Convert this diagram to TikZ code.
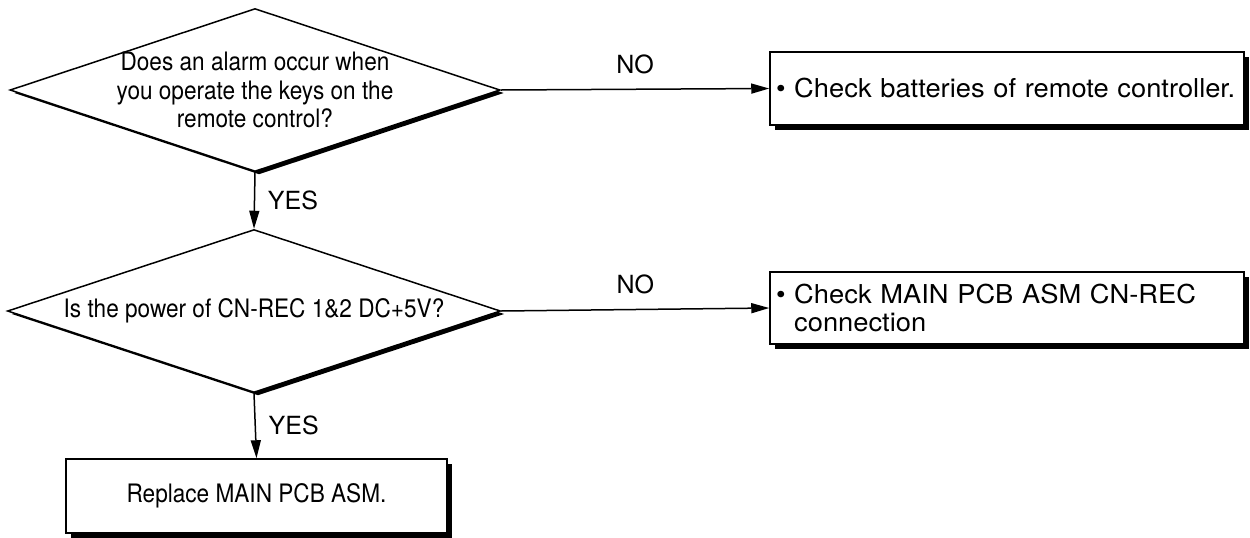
\documentclass[tikz,border=0pt]{standalone}
\usepackage{fontspec}
\setmainfont{TeX Gyre Heros}
\newfontfamily\narrowsf[FakeStretch=0.89]{TeX Gyre Heros}
\newfontfamily\widesf[FakeStretch=1.05]{TeX Gyre Heros}
\usetikzlibrary{shapes.geometric,shadows,arrows.meta,positioning}

\begin{document}
\begin{tikzpicture}[x=0.5pt, y=-0.5pt, ->, >={Triangle[length=9pt,width=5pt]}, line width=0.75pt,
  font=\fontsize{12.5}{14}\selectfont,
  decision/.style={diamond, draw, fill=white, inner sep=0pt, minimum width=245pt, minimum height=81.5pt,
    drop shadow={shadow xshift=2pt, shadow yshift=-1.5pt, opacity=1, fill=black}},
  question/.style={align=center, font=\narrowsf\fontsize{12.7}{14.2}\selectfont},
  action/.style={rectangle, draw, fill=white, minimum width=237pt, text width=231pt, inner xsep=3pt,
    align=left, font=\widesf\fontsize{13}{14}\selectfont,
    drop shadow={shadow xshift=2.5pt, shadow yshift=-2.5pt, opacity=1, fill=black}}]
  \useasboundingbox (0,0) rectangle (1250,537);

  \node[decision] (Q1) at (255,90) {};
  \node[question] (Q1t) at (Q1) {Does an alarm occur when\\you operate the keys on the\\remote control?};
  \node[decision, minimum width=246.5pt] (Q2) at (254,311) {};
  \node[question] (Q2t) at (Q2) {Is the power of CN-REC 1\&2 DC+5V?};

  \node[action, minimum height=36.5pt] (B1) at (1007,88.5) {\textbullet\ Check batteries of remote controller.};
  \node[action, minimum height=36pt] (B2) at (1007,308)
    {\textbullet\ Check MAIN PCB ASM CN-REC\\\phantom{\textbullet\ }connection};
  \node[action, minimum width=190.5pt, minimum height=37pt, text width=, align=center,
    font=\narrowsf\fontsize{12.7}{14}\selectfont] (B3) at (256.5,496) {Replace MAIN PCB ASM.};

  \path (Q1.east) edge node[above=4pt] {NO} (B1.west)
        (Q1.south) edge node[right=3pt] {YES} (Q2.north)
        (Q2.east) edge node[above=4pt] {NO} (B2.west)
        (Q2.south) edge node[right=3pt] {YES} (B3.north);
\end{tikzpicture}
\end{document}
